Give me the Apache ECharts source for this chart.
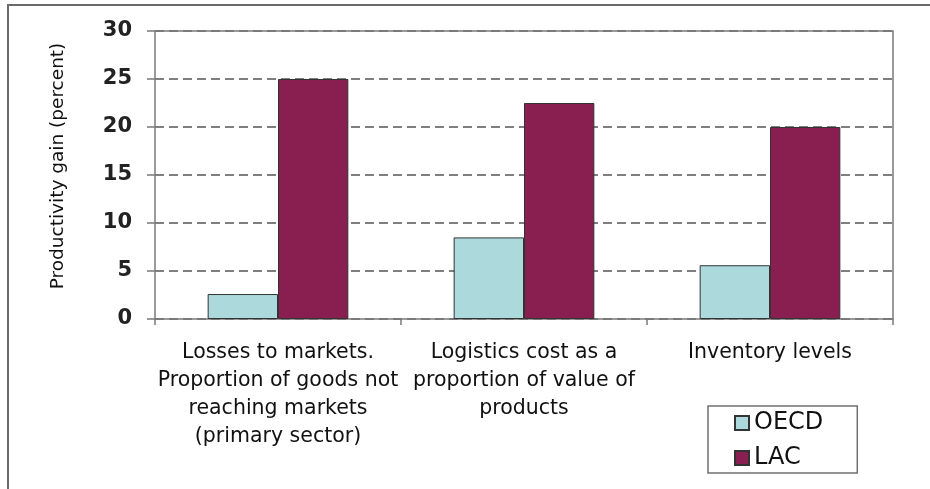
<!DOCTYPE html>
<html>
<head>
<meta charset="utf-8">
<script src="https://cdn.jsdelivr.net/npm/echarts@6/dist/echarts.min.js"></script>
<style>
  html, body { margin: 0; padding: 0; background: #fff; }
  #chart { width: 930px; height: 489px; }
</style>
</head>
<body>
<div id="chart"></div>
<script>
// Productivity gains: OECD vs. Latin America & Caribbean
const categories = [
  'Losses to markets.\nProportion of goods not\nreaching markets\n(primary sector)',
  'Logistics cost as a\nproportion of value of\nproducts',
  'Inventory levels'
];
const seriesNames = ['OECD', 'LAC'];
const oecdValues = [2.6, 8.5, 5.6];
const lacValues = [25, 22.5, 20];
const yTicks = [0, 5, 10, 15, 20, 25, 30];

const FONT = '"DejaVu Sans", Arial, sans-serif';
const chart = echarts.init(document.getElementById('chart'), null, { renderer: 'canvas' });

const gridLeft = 155, gridTop = 31, gridRight = 37, gridBottom = 170;

chart.setOption({
  backgroundColor: '#ffffff',
  animation: false,
  grid: { left: gridLeft, top: gridTop, right: gridRight, bottom: gridBottom, show: false },
  legend: {
    orient: 'vertical',
    left: 708,
    top: 406,
    data: seriesNames,
    itemWidth: 14,
    itemHeight: 14,
    itemGap: 11,
    padding: [5, 34, 3, 26],
    borderColor: '#707070',
    borderWidth: 1.5,
    textStyle: { fontFamily: FONT, fontSize: 24, color: '#111' },
    icon: 'rect'
  },
  xAxis: {
    type: 'category',
    data: categories,
    axisLine: { show: true, lineStyle: { color: '#7a7a7a', width: 1.5 } },
    axisTick: { show: true, length: 6, inside: false, lineStyle: { color: '#7a7a7a', width: 1.5 } },
    axisLabel: {
      interval: 0,
      margin: 20,
      fontFamily: FONT,
      fontSize: 20.5,
      lineHeight: 28,
      color: '#111',
      align: 'center'
    },
    splitLine: { show: false }
  },
  yAxis: {
    type: 'value',
    min: yTicks[0],
    max: yTicks[yTicks.length - 1],
    interval: 5,
    name: 'Productivity gain (percent)',
    nameLocation: 'middle',
    nameRotate: 90,
    nameGap: 87,
    nameTextStyle: { fontFamily: FONT, fontSize: 18.5, color: '#111', padding: [0, 0, 0, 18] },
    axisLine: { show: true, lineStyle: { color: '#7a7a7a', width: 1.5 } },
    axisTick: { show: true, length: 8, inside: false, lineStyle: { color: '#7a7a7a', width: 1.5 } },
    axisLabel: {
      margin: 23,
      fontFamily: FONT,
      fontSize: 21,
      fontWeight: 'bold',
      color: '#222',
      formatter: v => (yTicks.includes(v) ? String(v) : '')
    },
    splitLine: { show: true, lineStyle: { color: '#555', type: [9, 5], width: 1.5 } }
  },
  series: [
    {
      name: seriesNames[0],
      type: 'bar',
      data: oecdValues,
      barWidth: '28.6%',
      barGap: '0%',
      itemStyle: { color: '#acd9db', borderColor: '#333', borderWidth: 1 }
    },
    {
      name: seriesNames[1],
      type: 'bar',
      data: lacValues,
      barWidth: '28.6%',
      barGap: '0%',
      itemStyle: { color: '#891f50', borderColor: '#333', borderWidth: 1 }
    }
  ],
  graphic: [
    // outer frame (top and left visible within the canvas)
    {
      type: 'rect',
      shape: { x: 8, y: 5, width: 1000, height: 1000 },
      style: { fill: 'none', stroke: '#6a6a6a', lineWidth: 2 },
      silent: true
    },
    // plot-area border on top and right
    {
      type: 'polyline',
      shape: { points: [[gridLeft, gridTop], [930 - gridRight, gridTop], [930 - gridRight, 489 - gridBottom]] },
      style: { fill: 'none', stroke: '#7a7a7a', lineWidth: 1.5 },
      z: 10,
      silent: true
    }
  ]
});
</script>
</body>
</html>
